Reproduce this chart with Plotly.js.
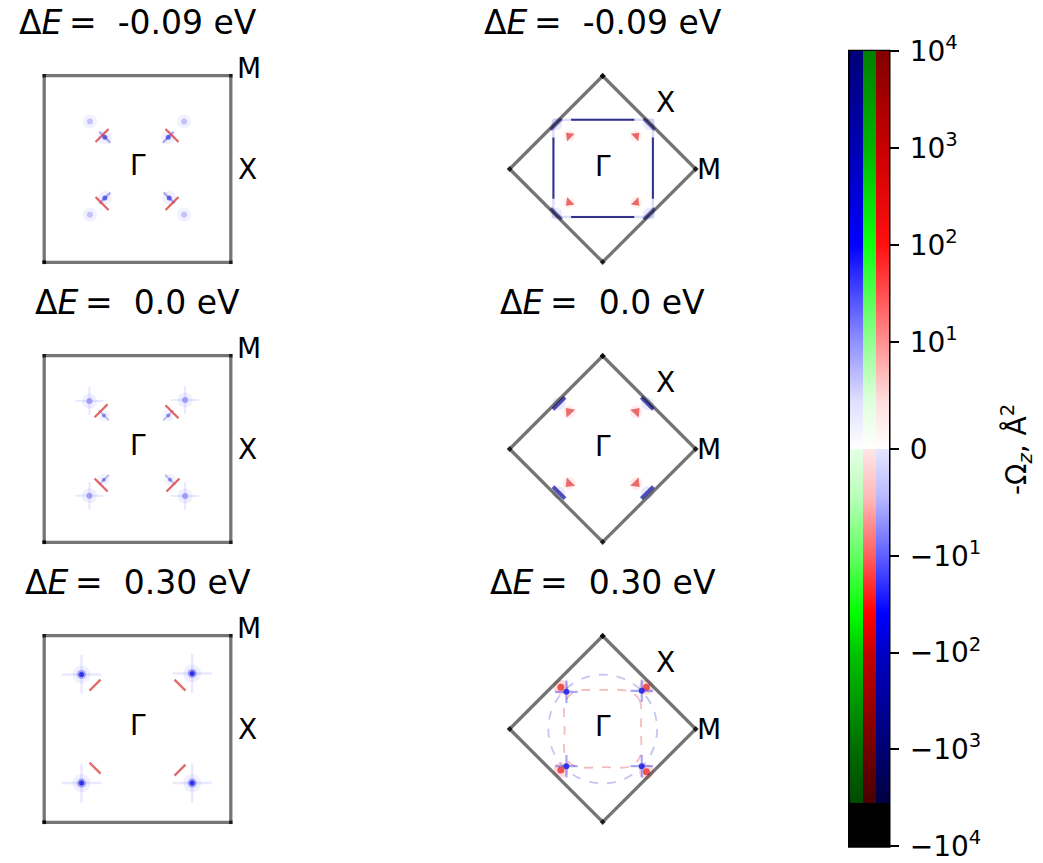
<!DOCTYPE html>
<html><head><meta charset="utf-8">
<script src="https://cdn.plot.ly/plotly-3.0.1.min.js"></script>
<style>html,body{margin:0;padding:0;background:#fff}#chart{width:1043px;height:863px}</style>
</head><body><div id="chart"></div>
<script>
// ================= DATA =================
const energies = ['-0.09', '0.0', '0.30'];               // ΔE per row, eV
const squareBZx = [-1, 1, 1, -1, -1];                     // square BZ outline
const squareBZy = [-1, -1, 1, 1, -1];
const diamondBZx = [0, 1, 0, -1, 0];                      // rotated BZ outline
const diamondBZy = [1, 0, -1, 0, 1];
const labelNames = ['Γ', 'M', 'X'];

// Row 1, square zone (ΔE = -0.09)
const a_redX  = [-0.38, 0.37, -0.38, 0.37], a_redY  = [0.36, 0.36, -0.37, -0.37];
const a_coreX = [-0.35, 0.33, -0.35, 0.34], a_coreY = [0.34, 0.34, -0.31, -0.31];
const a_faintX = [-0.51, 0.50, -0.51, 0.50], a_faintY = [0.51, 0.51, -0.49, -0.49];
// Row 2, square zone (ΔE = 0.0)
const c_redX  = [-0.39, 0.37, -0.39, 0.38], c_redY  = [0.41, 0.40, -0.385, -0.385];
const c_coreX = [-0.36, 0.33, -0.36, 0.35], c_coreY = [0.36, 0.36, -0.33, -0.33];
const c_faintX = [-0.515, 0.51, -0.515, 0.51], c_faintY = [0.515, 0.525, -0.50, -0.505];
// Row 3, square zone (ΔE = 0.30)
const e_redX  = [-0.455, 0.455, -0.455, 0.455], e_redY = [0.47, 0.47, -0.42, -0.44];
const e_blueX = [-0.60, 0.586, -0.60, 0.586], e_blueY = [0.585, 0.596, -0.58, -0.58];

// Row 1, rotated zone
const b_contourX = [-0.53, 0.54, 0.54, -0.53, -0.53];
const b_contourY = [0.53, 0.53, -0.515, -0.515, 0.53];
const b_contourCoreX = [-0.34, 0.34, null, 0.54, 0.54, null, 0.34, -0.34, null, -0.53, -0.53];
const b_contourCoreY = [0.53, 0.53, null, 0.34, -0.32, null, -0.515, -0.515, null, -0.32, 0.34];
const b_edgeX = [-0.50, 0.50, -0.50, 0.50], b_edgeY = [0.48, 0.48, -0.48, -0.48];
const b_redX  = [-0.36, 0.36, -0.36, 0.36], b_redY  = [0.355, 0.355, -0.36, -0.36];
// Row 2, rotated zone
const d_edgeX = [-0.47, 0.48, -0.47, 0.48], d_edgeY = [0.49, 0.49, -0.47, -0.47];
const d_redX  = [-0.36, 0.36, -0.36, 0.36], d_redY  = [0.40, 0.40, -0.37, -0.37];
// Row 3, rotated zone
const f_redX  = [-0.45, 0.47, -0.45, 0.47], f_redY  = [0.45, 0.45, -0.44, -0.46];
const f_blueX = [-0.39, 0.42, -0.39, 0.42], f_blueY = [0.40, 0.41, -0.40, -0.40];
const f_innerX = [0.41, 0.40, 0.30, 0, -0.30, -0.40, -0.41, -0.40, -0.30, 0, 0.30, 0.40, 0.41];
const f_innerY = [0, 0.30, 0.40, 0.42, 0.40, 0.30, 0, -0.30, -0.40, -0.41, -0.40, -0.30, 0];
const f_ringR = [0.585];

// Colour bar: symlog tick decades and tick labels
const cbExponents = [4, 3, 2, 1, 0, -1, -2, -3, -4];
const cbTickText = ['10<sup>4</sup>', '10<sup>3</sup>', '10<sup>2</sup>', '10<sup>1</sup>', '0',
                    '−10<sup>1</sup>', '−10<sup>2</sup>', '−10<sup>3</sup>', '−10<sup>4</sup>'];

// ================= LAYOUT / STYLE =================
const W = 1043, H = 863, R = 1.32;
const FONT = 'DejaVu Sans, Liberation Sans, sans-serif';
const panels = [
  {cx: 137.5, cy: 169, h: 93.3, kind: 'sq'},
  {cx: 602.7, cy: 169, h: 93,   kind: 'dm'},
  {cx: 137.5, cy: 449, h: 93.3, kind: 'sq'},
  {cx: 602.7, cy: 449, h: 93,   kind: 'dm'},
  {cx: 137.5, cy: 729, h: 93.3, kind: 'sq'},
  {cx: 602.7, cy: 729, h: 93,   kind: 'dm'}
];
const traces = [];
const annotations = [];
const shapes = [];
const layout = {
  width: W, height: H, autosize: false,
  margin: {l: 0, r: 0, t: 0, b: 0},
  paper_bgcolor: '#fff', plot_bgcolor: 'rgba(0,0,0,0)',
  showlegend: false, font: {family: FONT, color: '#000'},
  annotations, shapes
};
function ax(i) { return i === 0 ? ['x', 'y'] : ['x' + (i + 1), 'y' + (i + 1)]; }
panels.forEach((p, i) => {
  const [xa, ya] = ax(i);
  const xk = 'xaxis' + (i === 0 ? '' : i + 1), yk = 'yaxis' + (i === 0 ? '' : i + 1);
  const base = {range: [-R, R], showgrid: false, zeroline: false, showticklabels: false,
                ticks: '', showline: false, fixedrange: true};
  layout[xk] = Object.assign({}, base, {domain: [(p.cx - R * p.h) / W, (p.cx + R * p.h) / W], anchor: ya});
  layout[yk] = Object.assign({}, base, {domain: [1 - (p.cy + R * p.h) / H, 1 - (p.cy - R * p.h) / H], anchor: xa});
});

function tangentSym(xs, ys) { return xs.map((x, k) => (x * ys[k] < 0 ? 'line-ne' : 'line-nw')); }
function radialSym(xs, ys) { return xs.map((x, k) => (x * ys[k] < 0 ? 'line-nw' : 'line-ne')); }
function outwardAngle(xs, ys) { return xs.map((x, k) => Math.atan2(x, ys[k]) * 180 / Math.PI); }
function sc(i, o) { const [xa, ya] = ax(i); traces.push(Object.assign({type: 'scatter', xaxis: xa, yaxis: ya, hoverinfo: 'skip', cliponaxis: false}, o)); }
function dot(i, xs, ys, size, color) {
  sc(i, {x: xs, y: ys, mode: 'markers', marker: {symbol: 'circle', size: size, color: color, line: {width: 0}}});
}
function stroke(i, xs, ys, sym, size, color, width) {
  sc(i, {x: xs, y: ys, mode: 'markers', marker: {symbol: sym, size: size, color: color, line: {width: width, color: color}}});
}

// --- square zones ---
// row 1
dot(0, a_faintX, a_faintY, 14, 'rgba(120,120,255,0.10)');
dot(0, a_faintX, a_faintY, 6, 'rgba(110,110,240,0.35)');
dot(0, a_coreX, a_coreY, 14, 'rgba(110,110,255,0.10)');
stroke(0, a_coreX, a_coreY, radialSym(a_coreX, a_coreY), 11, 'rgba(70,70,225,0.45)', 2.2);
stroke(0, a_redX, a_redY, tangentSym(a_redX, a_redY), 13, 'rgba(220,70,70,0.85)', 2.2);
dot(0, a_coreX, a_coreY, 5, 'rgba(60,60,230,0.75)');
// row 2
dot(2, c_faintX, c_faintY, 15, 'rgba(120,120,255,0.12)');
dot(2, c_faintX, c_faintY, 6, 'rgba(100,100,235,0.55)');
stroke(2, c_faintX, c_faintY, 'cross-thin-open', 20, 'rgba(130,130,255,0.18)', 2);
dot(2, c_coreX, c_coreY, 12, 'rgba(110,110,255,0.08)');
stroke(2, c_coreX, c_coreY, radialSym(c_coreX, c_coreY), 10, 'rgba(90,90,230,0.35)', 2);
stroke(2, c_redX, c_redY, tangentSym(c_redX, c_redY), 13, 'rgba(220,70,70,0.85)', 2.2);
dot(2, c_coreX, c_coreY, 4, 'rgba(80,80,230,0.6)');
// row 3
dot(4, e_blueX, e_blueY, 18, 'rgba(100,100,255,0.10)');
stroke(4, e_blueX, e_blueY, 'cross-thin-open', 28, 'rgba(120,120,255,0.16)', 2.5);
dot(4, e_blueX, e_blueY, 9, 'rgba(70,70,240,0.45)');
dot(4, e_blueX, e_blueY, 5, 'rgba(30,30,230,0.85)');
stroke(4, e_redX, e_redY, tangentSym(e_redX, e_redY), 11, 'rgba(215,60,60,0.75)', 2.4);

// --- rotated zones ---
// row 1
sc(1, {x: b_contourX, y: b_contourY, mode: 'lines', line: {color: 'rgba(90,90,220,0.20)', width: 2.5}});
sc(1, {x: b_contourCoreX, y: b_contourCoreY, mode: 'lines', line: {color: 'rgba(20,20,120,0.85)', width: 2}});
dot(1, b_edgeX, b_edgeY, 12, 'rgba(80,80,220,0.12)');
stroke(1, b_edgeX, b_edgeY, tangentSym(b_edgeX, b_edgeY), 11, 'rgba(30,30,150,0.6)', 3.5);
dot(1, b_redX, b_redY, 12, 'rgba(255,130,130,0.12)');
sc(1, {x: b_redX, y: b_redY, mode: 'markers', marker: {symbol: 'triangle-up', size: 9, angle: outwardAngle(b_redX, b_redY), color: 'rgba(228,70,70,0.8)', line: {width: 0}}});
// row 2
dot(3, d_edgeX, d_edgeY, 13, 'rgba(80,80,220,0.12)');
stroke(3, d_edgeX, d_edgeY, tangentSym(d_edgeX, d_edgeY), 12, 'rgba(35,35,170,0.8)', 4);
dot(3, d_redX, d_redY, 13, 'rgba(255,130,130,0.14)');
sc(3, {x: d_redX, y: d_redY, mode: 'markers', marker: {symbol: 'triangle-up', size: 10, angle: outwardAngle(d_redX, d_redY), color: 'rgba(228,75,75,0.8)', line: {width: 0}}});
// row 3
sc(5, {x: f_innerX, y: f_innerY, mode: 'lines', line: {color: 'rgba(225,90,90,0.40)', width: 1.8, dash: 'dash', shape: 'spline'}});
shapes.push({type: 'circle', xref: 'x6', yref: 'y6', x0: -f_ringR[0], x1: f_ringR[0], y0: -f_ringR[0], y1: f_ringR[0],
             line: {color: 'rgba(90,90,220,0.35)', width: 1.8, dash: 'dash'}, layer: 'below'});
dot(5, f_redX, f_redY, 15, 'rgba(255,90,90,0.22)');
dot(5, f_redX, f_redY, 7, 'rgba(235,45,45,0.8)');
stroke(5, f_blueX, f_blueY, 'cross-thin-open', 16, 'rgba(60,60,235,0.45)', 2.2);
dot(5, f_blueX, f_blueY, 6, 'rgba(30,30,225,0.85)');

// --- zone outlines and labels ---
panels.forEach((p, i) => {
  const sq = p.kind === 'sq';
  sc(i, {x: sq ? squareBZx : diamondBZx, y: sq ? squareBZy : diamondBZy, mode: 'lines+markers',
         line: {color: 'rgba(0,0,0,0.54)', width: 3.3},
         marker: {symbol: sq ? 'square' : 'diamond', size: sq ? 3.5 : 4.6, color: 'rgba(0,0,0,0.75)', line: {width: 0}}});
  const [xa, ya] = ax(i);
  const pos = sq ? [[0, 0.04], [1.19, 1.08], [1.18, 0]] : [[0, 0.03], [1.14, 0], [0.68, 0.715]];
  labelNames.forEach((n, k) => annotations.push({xref: xa, yref: ya, x: pos[k][0], y: pos[k][1], text: n,
      showarrow: false, xanchor: 'center', yanchor: 'middle', font: {size: 28, family: FONT, color: '#000'}}));
  const row = Math.floor(i / 2);
  annotations.push({xref: 'paper', yref: 'paper', x: p.cx / W, y: 1 - (p.cy - 146.5) / H,
      text: 'Δ<i>E</i>\u2009=  ' + energies[row] + ' eV', showarrow: false, xanchor: 'center', yanchor: 'middle',
      font: {size: 33, family: FONT, color: '#000'}});
});

// --- colour bar: three adjacent stripes ---
const UMAX = 4.11, OFF = 0.105;
const cbTickVals = cbExponents.map(e => e === 0 ? 0 : Math.sign(e) * (Math.abs(e) + OFF));
function norm(stops) { return stops.map(s => [(s[0] + UMAX) / (2 * UMAX), s[1]]); }
const stripeScales = [
  norm([[-4.11,'#000000'],[-3.66,'#000000'],[-3.66,'#004a00'],[-3.11,'#006c00'],[-2.11,'#00c400'],[-1.70,'#00ff00'],
        [-1.11,'#62ff62'],[-0.5,'#b8ffb8'],[0,'#e6ffe6'],[0,'#ffffff'],[0.5,'#dedeff'],[1.11,'#9090ff'],
        [2.11,'#0000ff'],[3.11,'#0000b4'],[4.11,'#000078']]),
  norm([[-4.11,'#000000'],[-3.66,'#000000'],[-3.66,'#4a0000'],[-3.11,'#720000'],[-2.11,'#c40000'],[-1.70,'#ff0000'],
        [-1.11,'#ff5e5e'],[-0.5,'#ffb8b8'],[0,'#ffe6e6'],[0,'#ffffff'],[0.5,'#deffde'],[1.11,'#90ff90'],
        [2.11,'#10ff10'],[3.11,'#00b400'],[4.11,'#008000']]),
  norm([[-4.11,'#000000'],[-3.66,'#000000'],[-3.66,'#000040'],[-3.11,'#000072'],[-2.11,'#0000c4'],[-1.70,'#0000ff'],
        [-1.11,'#5e5eff'],[-0.5,'#b8b8ff'],[0,'#e6e6ff'],[0,'#ffffff'],[0.5,'#ffdede'],[1.11,'#ff9090'],
        [2.11,'#ff1010'],[3.11,'#c80000'],[4.11,'#800000']])
];
const cbTop = 50.7, cbBot = 846.7, stripeX = [850, 863, 876], stripeW = 13;
stripeScales.forEach((cs, k) => {
  const last = k === 2;
  traces.push({type: 'scatter', xaxis: 'x', yaxis: 'y', x: [50], y: [50], mode: 'markers', hoverinfo: 'skip',
    marker: {size: 1, color: [0], cmin: -UMAX, cmax: UMAX, colorscale: cs, showscale: true,
      colorbar: {x: stripeX[k] / W, xanchor: 'left', xpad: 0, y: 1 - cbTop / H, yanchor: 'top', ypad: 0,
        len: cbBot - cbTop, lenmode: 'pixels', thickness: stripeW, thicknessmode: 'pixels', outlinewidth: 0,
        tickmode: 'array', tickvals: cbTickVals, ticktext: cbTickText.map(t => '\u2009' + t),
        ticklabeloverflow: 'allow',
        showticklabels: last, ticks: last ? 'outside' : '', ticklen: 10, tickwidth: 2, tickcolor: '#000',
        tickfont: {size: 28, family: FONT, color: '#000'}}}});
});
const px = v => v / W, py = v => 1 - v / H;
shapes.push({type: 'rect', xref: 'paper', yref: 'paper', x0: px(849), x1: px(889.5), y0: py(cbBot), y1: py(cbTop),
             line: {color: '#000', width: 2}, fillcolor: 'rgba(0,0,0,0)', layer: 'above'});
[[863, 876, 239.3, '#000'], [879, 888.5, 239.3, '#000'], [850, 863, 614.3, '#000'], [863, 866, 614.3, '#000'], [868, 876, 614.3, '#fff']]
  .forEach(s => shapes.push({type: 'line', xref: 'paper', yref: 'paper', x0: px(s[0]), x1: px(s[1]), y0: py(s[2]), y1: py(s[2]),
             line: {color: s[3], width: 2.5}, layer: 'above'}));
annotations.push({xref: 'paper', yref: 'paper', x: px(1016), y: py(450), text: '-Ω<sub><i>z</i></sub>, Å<sup>2</sup>',
                  textangle: -90, showarrow: false, xanchor: 'center', yanchor: 'middle', font: {size: 28, family: FONT, color: '#000'}});

Plotly.newPlot('chart', traces, layout, {staticPlot: true, displayModeBar: false});
</script></body></html>
